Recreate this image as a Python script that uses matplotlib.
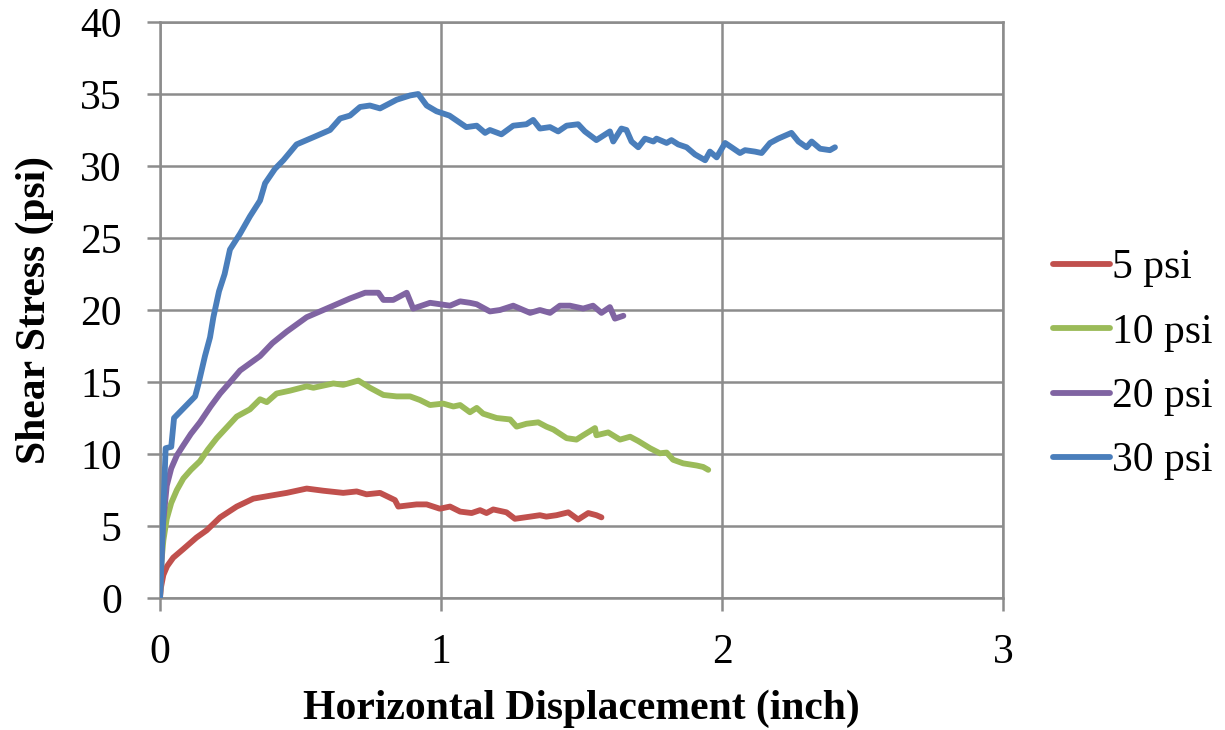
import matplotlib
matplotlib.use("Agg")
import matplotlib.pyplot as plt

plt.rcParams['font.family'] = ['Liberation Serif', 'DejaVu Serif']

# ---------------- data ----------------
labels = ["5 psi", "10 psi", "20 psi", "30 psi"]
colors = ["#C0504D", "#9BBB59", "#8064A2", "#4A7EBB"]

x5 = [0, 0.003, 0.012, 0.025, 0.047, 0.083, 0.13, 0.166, 0.214, 0.273, 0.332, 0.391, 0.451,
      0.522, 0.581, 0.652, 0.70, 0.735, 0.783, 0.836, 0.848, 0.913, 0.949, 0.996, 1.032,
      1.068, 1.109, 1.139, 1.162, 1.186, 1.233, 1.263, 1.317, 1.352, 1.375, 1.411, 1.453,
      1.488, 1.524, 1.553, 1.571]
y5 = [0, 0.7, 1.6, 2.2, 2.8, 3.4, 4.2, 4.7, 5.6, 6.35, 6.9, 7.1, 7.3,
      7.6, 7.45, 7.3, 7.4, 7.2, 7.3, 6.8, 6.35, 6.5, 6.5, 6.2, 6.35,
      6.0, 5.9, 6.1, 5.9, 6.15, 5.95, 5.5, 5.65, 5.75, 5.65, 5.75, 5.95,
      5.45, 5.9, 5.75, 5.6]

x10 = [0, 0.005, 0.012, 0.024, 0.04, 0.06, 0.083, 0.11, 0.142, 0.17, 0.202, 0.24, 0.273,
       0.32, 0.356, 0.38, 0.415, 0.463, 0.522, 0.546, 0.617, 0.652, 0.706, 0.747, 0.795,
       0.842, 0.89, 0.925, 0.961, 1.008, 1.044, 1.068, 1.103, 1.127, 1.15, 1.198, 1.246,
       1.269, 1.304, 1.346, 1.375, 1.40, 1.447, 1.482, 1.506, 1.548, 1.553, 1.595, 1.637,
       1.673, 1.702, 1.744, 1.779, 1.803, 1.826, 1.862, 1.91, 1.933, 1.951]
y10 = [0, 2.5, 4.0, 5.5, 6.6, 7.5, 8.3, 8.9, 9.5, 10.3, 11.1, 11.9, 12.6,
       13.1, 13.8, 13.6, 14.2, 14.4, 14.7, 14.6, 14.9, 14.8, 15.1, 14.6, 14.1,
       14.0, 14.0, 13.75, 13.4, 13.5, 13.3, 13.4, 12.9, 13.2, 12.8, 12.5, 12.4,
       11.9, 12.1, 12.2, 11.9, 11.7, 11.1, 11.0, 11.3, 11.8, 11.3, 11.5, 11.0,
       11.2, 10.9, 10.4, 10.05, 10.1, 9.6, 9.35, 9.2, 9.1, 8.9]

x20 = [0, 0.01, 0.024, 0.04, 0.06, 0.083, 0.11, 0.142, 0.18, 0.214, 0.25, 0.285, 0.356,
       0.40, 0.451, 0.522, 0.605, 0.676, 0.73, 0.777, 0.795, 0.83, 0.878, 0.901, 0.961,
       1.032, 1.068, 1.103, 1.127, 1.174, 1.21, 1.257, 1.317, 1.352, 1.388, 1.423, 1.459,
       1.506, 1.541, 1.571, 1.601, 1.619, 1.649]
y20 = [0, 5.0, 7.8, 9.0, 9.9, 10.6, 11.4, 12.2, 13.3, 14.2, 15.0, 15.8, 16.8,
       17.7, 18.5, 19.5, 20.2, 20.8, 21.2, 21.2, 20.7, 20.7, 21.2, 20.1, 20.5,
       20.3, 20.6, 20.5, 20.4, 19.9, 20.0, 20.3, 19.8, 20.0, 19.8, 20.3, 20.3,
       20.1, 20.3, 19.8, 20.2, 19.4, 19.6]

x30 = [0, 0.01, 0.02, 0.04, 0.05, 0.08, 0.125, 0.136, 0.16, 0.178, 0.19, 0.21, 0.23, 0.249,
       0.285, 0.32, 0.356, 0.374, 0.409, 0.439, 0.486, 0.546, 0.605, 0.641, 0.676, 0.712,
       0.747, 0.783, 0.842, 0.89, 0.919, 0.949, 0.984, 1.03, 1.09, 1.127, 1.157, 1.174,
       1.215, 1.257, 1.304, 1.328, 1.352, 1.388, 1.417, 1.447, 1.488, 1.512, 1.553, 1.601,
       1.613, 1.642, 1.66, 1.678, 1.702, 1.726, 1.756, 1.767, 1.803, 1.82, 1.844, 1.874,
       1.904, 1.94, 1.957, 1.981, 2.011, 2.034, 2.064, 2.082, 2.117, 2.141, 2.171, 2.20,
       2.247, 2.272, 2.301, 2.319, 2.349, 2.384, 2.402]
y30 = [0, 5.0, 10.4, 10.5, 12.5, 13.1, 14.0, 14.8, 16.8, 18.1, 19.5, 21.3, 22.5, 24.2,
       25.3, 26.5, 27.6, 28.8, 29.8, 30.4, 31.5, 32.0, 32.5, 33.3, 33.5, 34.1,
       34.2, 34.0, 34.6, 34.9, 35.0, 34.2, 33.8, 33.5, 32.7, 32.8, 32.3, 32.5,
       32.2, 32.8, 32.9, 33.2, 32.6, 32.7, 32.4, 32.8, 32.9, 32.4, 31.8, 32.4,
       31.7, 32.6, 32.5, 31.7, 31.3, 31.9, 31.7, 31.9, 31.6, 31.8, 31.5, 31.3,
       30.8, 30.4, 31.0, 30.6, 31.6, 31.3, 30.9, 31.1, 31.0, 30.9, 31.6, 31.9,
       32.3, 31.7, 31.3, 31.7, 31.2, 31.1, 31.3]

xs = [x5, x10, x20, x30]
ys = [y5, y10, y20, y30]

x_ticks = [0, 1, 2, 3]
y_ticks = [0, 5, 10, 15, 20, 25, 30, 35, 40]

# ---------------- figure ----------------
fig = plt.figure(figsize=(12.25, 7.3), dpi=100)
ax = fig.add_axes([160 / 1225, 1 - 598 / 730, 843 / 1225, 576 / 730])

grid_c = "#8C8C8C"
for xv, yv, c, lab in zip(xs, ys, colors, labels):
    ax.plot(xv, yv, color=c, lw=4.2, label=lab, solid_capstyle='round',
            solid_joinstyle='round', zorder=3)

ax.set_xlim(0, 3)
ax.set_ylim(0, 40)
ax.set_xticks(x_ticks)
ax.set_yticks(y_ticks)
ax.grid(True, color=grid_c, lw=1.8, zorder=0)
ax.set_axisbelow(True)
for s in ax.spines.values():
    s.set_color(grid_c)
    s.set_linewidth(1.8)
ax.tick_params(axis='both', direction='out', length=9.5, width=1.8, color=grid_c,
               labelsize=30)
ax.tick_params(axis='x', pad=16)
ax.tick_params(axis='y', pad=18)

ax.set_xlabel("Horizontal Displacement (inch)", fontsize=30, fontweight='bold', labelpad=13)
ax.set_ylabel("Shear Stress (psi)", fontsize=30, fontweight='bold', labelpad=19)

leg = ax.legend(loc='center left', bbox_to_anchor=(1.059, 0.405), frameon=False,
                fontsize=30, handlelength=1.37, handletextpad=0.05, labelspacing=0.62,
                borderpad=0, borderaxespad=0)
for h in leg.get_lines():
    h.set_linewidth(4.2)

fig.savefig("out.png", dpi=100)
